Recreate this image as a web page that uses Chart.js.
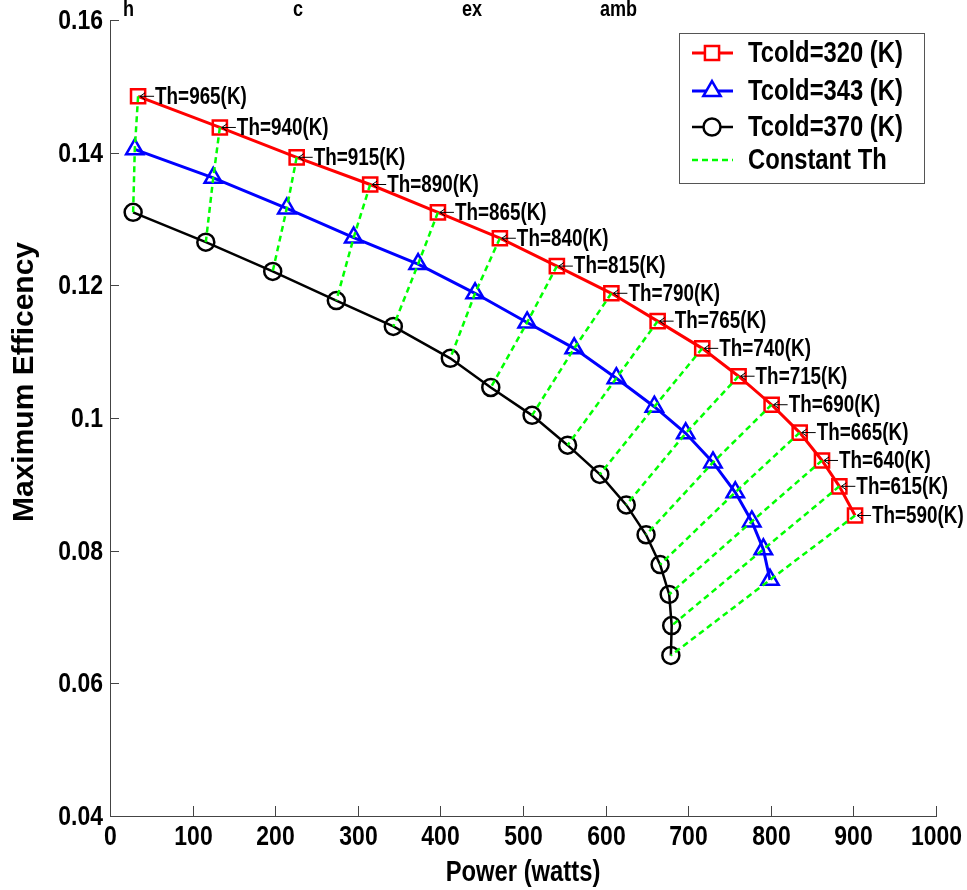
<!DOCTYPE html>
<html>
<head>
<meta charset="utf-8">
<script src="https://cdn.jsdelivr.net/npm/chart.js@4.4.1/dist/chart.umd.min.js"></script>
<style>
  html, body { margin: 0; padding: 0; background: #fff; }
  #wrap { width: 967px; height: 890px; position: relative; }
</style>
</head>
<body>
<div id="wrap"><canvas id="chart" width="967" height="890"></canvas></div>
<script>
// hot side temperatures, one per constant-Th line
const thLabels = [965, 940, 915, 890, 865, 840, 815, 790, 765, 740, 715, 690, 665, 640, 615, 590];

// Tcold = 320 K
const powerC320 = [34, 133, 226, 315, 397, 472, 541, 607, 663, 717, 761, 801, 835, 862, 883, 902];
const effC320 = [0.1485, 0.1438, 0.1393, 0.1352, 0.1310, 0.1271, 0.1229, 0.1188, 0.1146, 0.1105, 0.1063, 0.1020, 0.0978, 0.0936, 0.0897, 0.0853];

// Tcold = 343 K
const powerC343 = [30, 125, 214, 295, 373, 442, 505, 562, 613, 659, 697, 730, 757, 777, 791, 799];
const effC343 = [0.1405, 0.1362, 0.1316, 0.1272, 0.1232, 0.1188, 0.1144, 0.1105, 0.1060, 0.1017, 0.0977, 0.0933, 0.0888, 0.0844, 0.0802, 0.0756];

// Tcold = 370 K
const powerC370 = [28, 116, 197, 274, 343, 412, 461, 511, 554, 593, 625, 649, 666, 677, 680, 679];
const effC370 = [0.1310, 0.1265, 0.1221, 0.1177, 0.1138, 0.1090, 0.1046, 0.1004, 0.0959, 0.0915, 0.0869, 0.0824, 0.0779, 0.0734, 0.0687, 0.0642];

const xTicks = [0, 100, 200, 300, 400, 500, 600, 700, 800, 900, 1000];
const yTicks = [0.04, 0.06, 0.08, 0.1, 0.12, 0.14, 0.16];

const FONT = '"Liberation Sans", Arial, sans-serif';
const SQUEEZE = 0.82; // the reference text is horizontally condensed

function toPoints(xs, ys) {
  return xs.map((x, i) => ({ x: x, y: ys[i] }));
}

// condensed text: draw with a horizontal scale
function narrowText(ctx, text, x, y, size, align, baseline) {
  ctx.save();
  ctx.translate(x, y);
  ctx.scale(SQUEEZE, 1);
  ctx.font = 'bold ' + size + 'px ' + FONT;
  ctx.textAlign = align || 'left';
  ctx.textBaseline = baseline || 'middle';
  ctx.fillText(text, 0, 0);
  ctx.restore();
}

// constant Th dashed lines: red -> blue -> black, broken by a gap
const constTh = [];
thLabels.forEach((th, i) => {
  constTh.push({ x: powerC320[i], y: effC320[i] });
  constTh.push({ x: powerC343[i], y: effC343[i] });
  constTh.push({ x: powerC370[i], y: effC370[i] });
  constTh.push({ x: powerC370[i], y: null });
});

const series = [
  { label: 'Tcold=320 (K)', color: '#ff0000', style: 'rect', radius: 10, width: 3 },
  { label: 'Tcold=343 (K)', color: '#0000ff', style: 'triangle', radius: 10, width: 3 },
  { label: 'Tcold=370 (K)', color: '#000000', style: 'circle', radius: 8.5, width: 2.5 }
];

// inward tick marks, tick labels, titles, Th labels and legend
const decorations = {
  id: 'decorations',
  afterDatasetsDraw(chart) {
    const ctx = chart.ctx;
    const xs = chart.scales.x, ys = chart.scales.y;
    const area = chart.chartArea;
    ctx.save();

    // tick marks pointing into the plot, and their labels
    ctx.strokeStyle = '#444';
    ctx.fillStyle = '#000';
    ctx.lineWidth = 1;
    xTicks.forEach(v => {
      const px = Math.round(xs.getPixelForValue(v)) + 0.5;
      ctx.beginPath();
      ctx.moveTo(px, area.bottom);
      ctx.lineTo(px, area.bottom - 10);
      ctx.stroke();
      narrowText(ctx, String(v), px, area.bottom + 21, 28, 'center');
    });
    yTicks.forEach(v => {
      const py = Math.round(ys.getPixelForValue(v)) + 0.5;
      ctx.beginPath();
      ctx.moveTo(area.left, py);
      ctx.lineTo(area.left + 9, py);
      ctx.stroke();
      narrowText(ctx, String(Number(v.toFixed(2))), area.left - 7, py + 1, 28, 'right');
    });

    // Th labels with arrows on the Tcold=320 curve
    ctx.strokeStyle = '#000';
    thLabels.forEach((th, i) => {
      const px = xs.getPixelForValue(powerC320[i]);
      const py = ys.getPixelForValue(effC320[i]);
      ctx.lineWidth = 1;
      ctx.beginPath();
      ctx.moveTo(px + 2, py);
      ctx.lineTo(px + 16, py);
      ctx.moveTo(px + 7, py - 3.5);
      ctx.lineTo(px + 2, py);
      ctx.lineTo(px + 7, py + 3.5);
      ctx.stroke();
      narrowText(ctx, 'Th=' + th + '(K)', px + 17, py + 1, 23, 'left');
    });

    // legend
    const lx = 679, ly = 33, lw = 245, lh = 150;
    ctx.fillStyle = '#fff';
    ctx.fillRect(lx, ly, lw, lh);
    ctx.strokeStyle = '#555';
    ctx.lineWidth = 1;
    ctx.strokeRect(lx + 0.5, ly + 0.5, lw, lh);
    const rows = [53, 91, 127, 160];
    series.forEach((s, i) => {
      const y = rows[i];
      ctx.strokeStyle = s.color;
      ctx.lineWidth = s.width;
      ctx.setLineDash([]);
      ctx.beginPath();
      ctx.moveTo(692, y);
      ctx.lineTo(733, y);
      ctx.stroke();
      ctx.lineWidth = 2.5;
      ctx.fillStyle = '#fff';
      Chart.helpers.drawPoint(ctx, { pointStyle: s.style, radius: s.radius, borderWidth: 2.5 }, 712, y);
      ctx.fillStyle = '#000';
      narrowText(ctx, s.label, 748, y + 1, 29, 'left');
    });
    ctx.strokeStyle = '#00ff00';
    ctx.lineWidth = 2.5;
    ctx.setLineDash([6, 4]);
    ctx.beginPath();
    ctx.moveTo(692, rows[3]);
    ctx.lineTo(733, rows[3]);
    ctx.stroke();
    ctx.setLineDash([]);
    ctx.fillStyle = '#000';
    narrowText(ctx, 'Constant Th', 748, rows[3] + 1, 29, 'left');

    // axis titles
    narrowText(ctx, 'Power (watts)', (area.left + area.right) / 2, 881, 29, 'center', 'alphabetic');

    ctx.save();
    ctx.translate(33, 382);
    ctx.rotate(-Math.PI / 2);
    ctx.font = 'bold 30px ' + FONT;
    ctx.textAlign = 'center';
    ctx.fillText('Maximum Efficency', 0, 0);
    ctx.restore();

    // bottom of the clipped title line: only the subscripts are readable
    narrowText(ctx, 'h', 123, 16, 22, 'left', 'alphabetic');
    narrowText(ctx, 'c', 293, 16, 22, 'left', 'alphabetic');
    narrowText(ctx, 'ex', 462, 16, 22, 'left', 'alphabetic');
    narrowText(ctx, 'amb', 600, 16, 22, 'left', 'alphabetic');

    ctx.restore();
  }
};

new Chart(document.getElementById('chart'), {
  type: 'scatter',
  data: {
    datasets: [
      {
        label: 'Constant Th',
        data: constTh,
        showLine: true,
        spanGaps: false,
        borderColor: '#00ff00',
        borderWidth: 2.5,
        borderDash: [6, 4],
        pointRadius: 0,
        order: 0
      },
      ...series.map((s, i) => ({
        label: s.label,
        data: toPoints([powerC320, powerC343, powerC370][i], [effC320, effC343, effC370][i]),
        showLine: true,
        borderColor: s.color,
        borderWidth: s.width,
        pointStyle: s.style,
        pointRadius: s.radius,
        pointBorderColor: s.color,
        pointBorderWidth: 2.5,
        pointBackgroundColor: 'rgba(0,0,0,0)',
        order: 1 + i
      }))
    ]
  },
  options: {
    responsive: false,
    animation: false,
    layout: { padding: { top: 20, right: 31, left: 0, bottom: 0 } },
    plugins: {
      legend: { display: false },
      title: { display: false },
      tooltip: { enabled: false }
    },
    scales: {
      x: {
        type: 'linear',
        min: 0,
        max: 1000,
        afterFit: scale => { scale.height = 74; },
        grid: { display: false, drawTicks: false },
        border: { display: true, color: '#444', width: 1 },
        ticks: { display: false, stepSize: 100 }
      },
      y: {
        type: 'linear',
        min: 0.04,
        max: 0.16,
        afterFit: scale => { scale.width = 110; },
        grid: { display: false, drawTicks: false },
        border: { display: true, color: '#444', width: 1 },
        ticks: { display: false, stepSize: 0.02 }
      }
    }
  },
  plugins: [decorations]
});
</script>
</body>
</html>
